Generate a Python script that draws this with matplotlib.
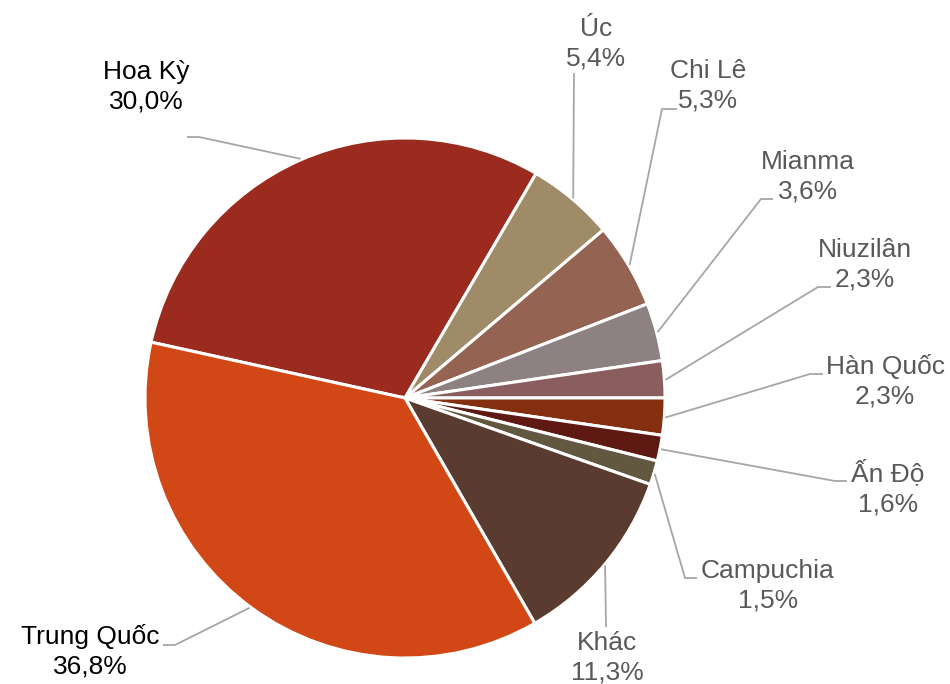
import numpy as np
import matplotlib
matplotlib.use("Agg")
from matplotlib import pyplot as plt

plt.rcParams['font.family'] = ['Liberation Sans', 'DejaVu Sans']

labels = ['Hoa Kỳ', 'Úc', 'Chi Lê', 'Mianma', 'Niuzilân', 'Hàn Quốc',
          'Ấn Độ', 'Campuchia', 'Khác', 'Trung Quốc']
shares = [30.0, 5.4, 5.3, 3.6, 2.3, 2.3, 1.6, 1.5, 11.3, 36.8]
colors = ['#9A2B1E', '#A08B69', '#956352', '#8E8181', '#8A5E5E',
          '#832F10', '#5E1A12', '#625840', '#5A3B30', '#D14816']

W, H = 950, 684
fig = plt.figure(figsize=(W / 100, H / 100), dpi=100)
ax = fig.add_axes([0, 0, 1, 1])

cx, cy, R = 405, H - 398, 260
start = 167.6
wedges, _ = ax.pie(shares, colors=colors, startangle=start, counterclock=False,
                   center=(cx, cy), radius=R, frame=True,
                   wedgeprops=dict(edgecolor='white', linewidth=2.2))
ax.set_xlim(0, W)
ax.set_ylim(0, H)
ax.set_aspect('equal')
ax.axis('off')

# label layout (pixel coords, y down): text centre, elbow start, elbow end
layout = {
    'Hoa Kỳ':     ((146, 87),  (187, 137), (199, 137)),
    'Úc':         ((596, 44),  (574, 73),  (574, 73)),
    'Chi Lê':     ((708, 86),  (677, 109), (662, 109)),
    'Mianma':     ((808, 177), (773, 199), (761, 199)),
    'Niuzilân':   ((865, 265), (831, 287), (818, 287)),
    'Hàn Quốc':   ((885, 381), (823, 374), (810, 374)),
    'Ấn Độ':      ((888, 488), (847, 481), (835, 481)),
    'Campuchia':  ((768, 586), (697, 578), (685, 578)),
    'Khác':       ((607, 658), (606, 627), (606, 627)),
    'Trung Quốc': ((90, 651),  (163, 645), (175, 645)),
}

cum = 0.0
for lab, s in zip(labels, shares):
    mid = np.deg2rad(start - (cum + s / 2) * 3.6)
    cum += s
    px, py = cx + (R + 1) * np.cos(mid), cy + (R + 1) * np.sin(mid)
    (tx, ty), (ax0, ay0), (ax1, ay1) = layout[lab]
    ax.plot([ax0, ax1, px], [H - ay0, H - ay1, py], color='#A6A6A6', lw=1.3,
            solid_capstyle='butt', zorder=1)
    tc = '#000000' if lab in ('Hoa Kỳ', 'Trung Quốc') else '#595959'
    pct = f'{s:.1f}%'.replace('.', ',')
    ax.text(tx, H - ty, f'{lab}\n{pct}', ha='center', va='center',
            fontsize=19, color=tc, linespacing=1.3)

fig.savefig('out.png', dpi=100)
